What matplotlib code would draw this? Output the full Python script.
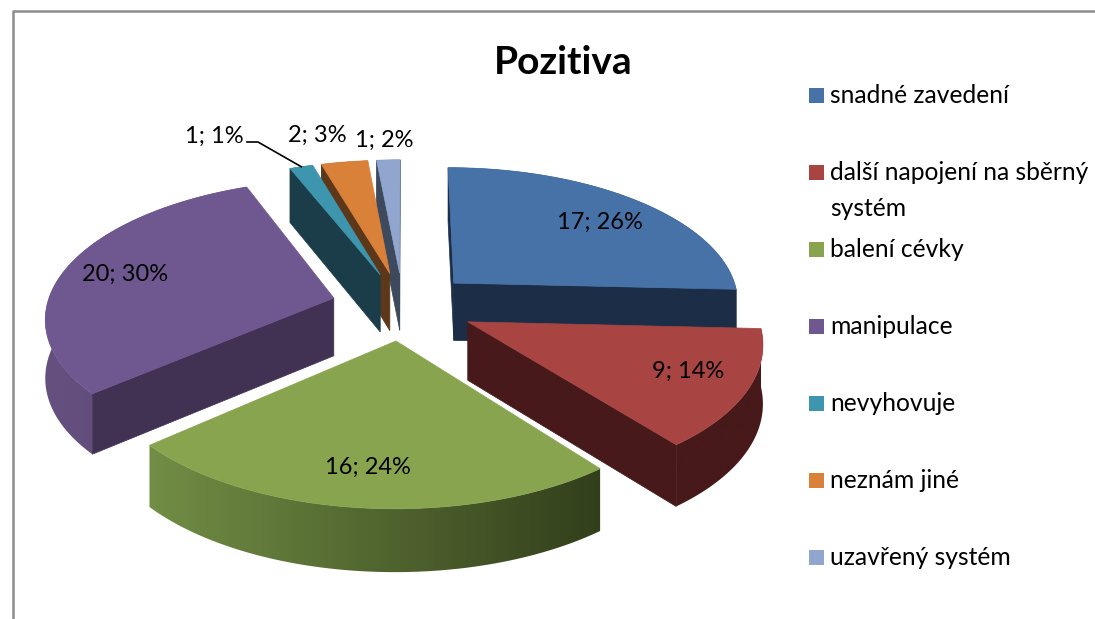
import numpy as np
import matplotlib
matplotlib.use("Agg")
import matplotlib.pyplot as plt
from matplotlib.colors import LinearSegmentedColormap
from matplotlib.patches import Polygon, Rectangle

plt.rcParams['font.family'] = ["Lato", "DejaVu Sans"]

title = "Pozitiva"
categories = ["snadné zavedení", "další napojení na sběrný\nsystém", "balení cévky",
              "manipulace", "nevyhovuje", "neznám jiné", "uzavřený systém"]
values = [17, 9, 16, 20, 1, 2, 1]
percents = [26, 14, 24, 30, 1, 3, 2]

top_colors = ["#4672a8", "#a84543", "#88a44e", "#6f5790", "#3e96ae", "#d98039", "#90a6ce"]
wall_colors = ["#1c2e47", "#47191a", "#33401c", "#413253", "#1a3d49", "#5c371a", "#3d4a5e"]
rim_left = ["#1c2e47", "#47191a", "#728e45", "#655080", "#1a3d49", "#5c371a", "#3d4a5e"]
rim_right = ["#1c2e47", "#47191a", "#323f1b", "#5a4672", "#1a3d49", "#5c371a", "#3d4a5e"]
label_xy = [(600, 222), (688, 371), (368, 467), (125, 274), (214, 136), (317, 135), (384, 140)]

# back to front
draw_order = [0, 6, 5, 4, 3, 1, 2]

# projection of the tilted pie into pixels
cx, cy = 403, 306
rx, ry, depth = 287, 136, 58
persp = 0.13
explode = 0.25


def project(x, y, z=0.0):
    w = 1 + persp * y
    return cx + rx * x / w, cy - ry * y / w - depth * z / np.sqrt(w)


def faces_viewer(nx, ny, ox, oy):
    return nx * (0 - ox) + ny * (-1 / persp - oy) > 0


fig = plt.figure(figsize=(10.95, 6.19), dpi=100)
ax = fig.add_axes([0, 0, 1, 1])
ax.axis("off")

ax.plot([12.5, 12.5, 1095], [619, 11, 11], color="#8c8c8c", lw=1.8, solid_capstyle="butt")

total = sum(values)
edges = np.cumsum([0] + values) / total * 2 * np.pi

z = 2
for i in draw_order:
    a1, a2 = edges[i], edges[i + 1]
    mid = (a1 + a2) / 2
    ox, oy = explode * np.sin(mid), explode * np.cos(mid)
    th = np.linspace(a1, a2, max(int(np.degrees(a2 - a1)), 3) + 1)
    xs = ox + np.sin(th)
    ys = oy + np.cos(th)
    top_pts = np.array([project(x, y) for x, y in zip(xs, ys)])
    low_pts = np.array([project(x, y, -1) for x, y in zip(xs, ys)])

    # outer rim, shaded from left to right
    rim = Polygon(np.vstack([top_pts, low_pts[::-1]]), closed=True, transform=ax.transData,
                  fc="none", ec="none")
    ax.add_patch(rim)
    x0, x1 = top_pts[:, 0].min(), top_pts[:, 0].max()
    cmap = LinearSegmentedColormap.from_list("rim", [rim_left[i], rim_right[i]])
    im = ax.imshow(np.linspace(0, 1, 256).reshape(1, -1), cmap=cmap, aspect="auto",
                   extent=(x0 - 1, x1 + 1, 619, 0), zorder=z, interpolation="bilinear")
    im.set_clip_path(rim)
    z += 1

    # cut faces that look towards the viewer
    apex_t = project(ox, oy)
    apex_l = project(ox, oy, -1)
    if faces_viewer(-np.cos(a1), np.sin(a1), ox, oy):
        ax.add_patch(Polygon([apex_t, top_pts[0], low_pts[0], apex_l], closed=True,
                             fc=wall_colors[i], ec=wall_colors[i], lw=0.5, zorder=z))
    if faces_viewer(np.cos(a2), -np.sin(a2), ox, oy):
        ax.add_patch(Polygon([apex_t, top_pts[-1], low_pts[-1], apex_l], closed=True,
                             fc=wall_colors[i], ec=wall_colors[i], lw=0.5, zorder=z))
    z += 1

    # top
    ax.add_patch(Polygon(np.vstack([[apex_t], top_pts]), closed=True,
                         fc=top_colors[i], ec=top_colors[i], lw=0.5, zorder=z))
    z += 1

ax.set_xlim(0, 1095)
ax.set_ylim(619, 0)

# data labels
for i in range(len(values)):
    ax.text(label_xy[i][0], label_xy[i][1], f"{values[i]}; {percents[i]}%",
            fontsize=17, color="black", ha="center", va="center", zorder=z)

# leader line of the small slice
mid = (edges[4] + edges[5]) / 2
px, py = project(explode * np.sin(mid) + np.sin(mid), explode * np.cos(mid) + np.cos(mid))
ax.plot([px, 258, 247], [py, 142, 142], color="black", lw=1.2, zorder=z)

ax.text(563, 62, title, fontsize=28, fontweight="bold", ha="center", va="center")

# legend
for i, name in enumerate(categories):
    y = 95 + 77 * i
    ax.add_patch(Rectangle((809, y - 7), 15, 15, fc=top_colors[i], ec="none"))
    ax.text(830, y - 11, name, fontsize=17.7, ha="left", va="top", linespacing=1.67)

fig.savefig("out.png", dpi=100)
